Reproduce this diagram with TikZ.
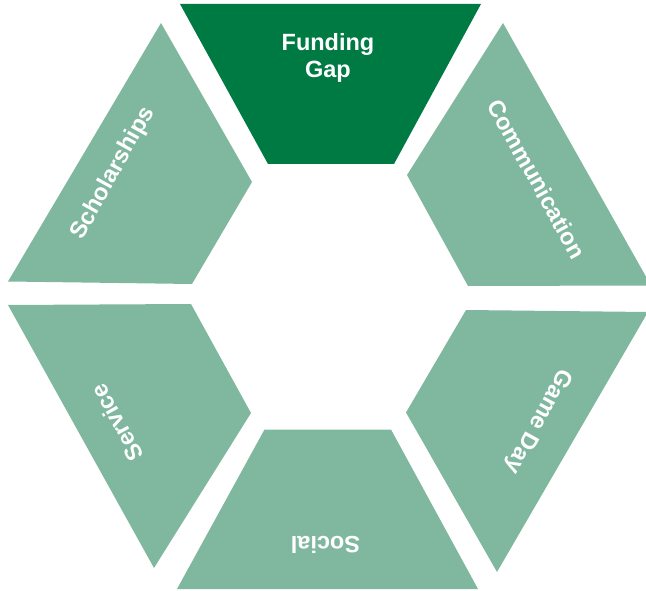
\documentclass[tikz,border=0pt]{standalone}
\usepackage{fontspec}
\setmainfont{Liberation Sans}
\definecolor{darkg}{HTML}{007A43}
\definecolor{lightg}{HTML}{80B89F}
\tikzset{
  seg/.style={fill=lightg},
  segdark/.style={fill=darkg},
  lbl/.style={text=white, font=\fontsize{23.5}{27.6}\selectfont\bfseries, inner sep=0pt, align=center}
}
\begin{document}
\begin{tikzpicture}[x=1pt,y=-1pt]
\useasboundingbox (0,0) rectangle (646,591);
\clip (0,0) rectangle (646,591);
\fill[segdark] (180,4) -- (481,4) -- (394,164) -- (268,164) -- cycle;
\fill[seg] (503,23) -- (651,285.5) -- (468,286) -- (407,175) -- cycle;
\fill[seg] (161,23) -- (252,182) -- (192,284) -- (8,281.5) -- cycle;
\fill[seg] (8,305) -- (191,304) -- (251,413) -- (154,568) -- cycle;
\fill[seg] (466,310) -- (648,312) -- (497,572) -- (406,412.5) -- cycle;
\fill[seg] (264.5,429.5) -- (391,429.5) -- (478,589) -- (177,589) -- cycle;
\node[lbl] (funding) at (328,58) {Funding\\Gap};
\node[lbl, rotate=-61] (comm) at (537,179) {Communication};
\node[lbl, rotate=-119] (gameday) at (538,421) {Game Day};
\node[lbl, rotate=180] (social) at (325.5,545) {Social};
\node[lbl, rotate=119] (service) at (116.7,423) {Service};
\node[lbl, rotate=61] (schol) at (113.3,173.3) {Scholarships};
\end{tikzpicture}
\end{document}
